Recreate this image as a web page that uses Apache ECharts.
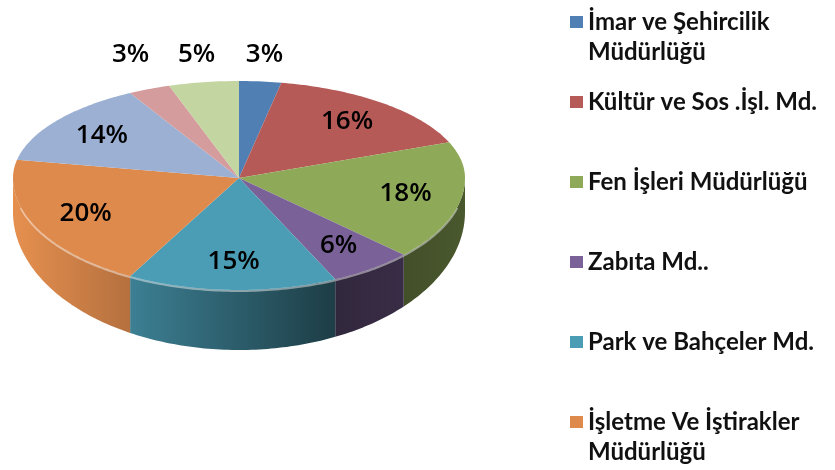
<!DOCTYPE html>
<html>
<head>
<meta charset="utf-8">
<script src="https://cdn.jsdelivr.net/npm/echarts@6/dist/echarts.min.js"></script>
<style>
  html, body { margin: 0; padding: 0; background: #fff; }
  #c1 { width: 835px; height: 470px; }
</style>
</head>
<body>
<div id="c1"></div>
<script>
// slices in drawing order, clockwise from 12 o'clock
const categories = [
  'İmar ve Şehircilik\nMüdürlüğü',
  'Kültür ve Sos .İşl. Md.',
  'Fen İşleri Müdürlüğü',
  'Zabıta Md..',
  'Park ve Bahçeler Md.',
  'İşletme Ve İştirakler\nMüdürlüğü',
  'Destek Hizmetleri Md.',
  'Mali Hizmetler Md.',
  'Yazı İşleri Md.'
]
const values = [3, 16, 18, 6, 15, 20, 14, 3, 5]
const colors = ['#4F7FB3', '#B55A57', '#8EAA58', '#7A6197', '#4A9DB5', '#DD8A4C', '#9BB0D3', '#D49C9C', '#C3D5A0']

const total = values.reduce((a, b) => a + b, 0)
const starts = []
let acc = 0
values.forEach(v => { starts.push(acc / total * 360); acc += v })

// fake 3d geometry
const cx = 239, cy = 178, rx = 226, ryTop = 97, ryBottom = 112
const rad = d => d * Math.PI / 180
const edge = (deg, f = 1) => {
  const c = Math.cos(rad(deg))
  return [cx + f * rx * Math.sin(rad(deg)), cy - f * (c > 0 ? ryTop : ryBottom) * c]
}
const depth = deg => 34 + 26 * Math.max(0, -Math.cos(rad(deg)))
const arc = (a0, a1) => {
  const n = Math.max(1, Math.ceil(a1 - a0))
  const pts = []
  for (let k = 0; k <= n; k++) pts.push(a0 + (a1 - a0) * k / n)
  return pts
}
const shade = (hex, k) => {
  const n = parseInt(hex.slice(1), 16)
  const ch = s => Math.max(0, Math.min(255, Math.round(((n >> s) & 255) * k)))
  return 'rgb(' + ch(16) + ',' + ch(8) + ',' + ch(0) + ')'
}

// label spots: small slices go above the pie, pushed apart
const labelPos = []
const outside = []
values.forEach((v, i) => {
  const mid = starts[i] + v / total * 180
  if (v < 6) outside.push({ i, mid })
  else labelPos[i] = edge(mid, 0.75)
})
outside.sort((a, b) => Math.sin(rad(b.mid)) - Math.sin(rad(a.mid)))
let prevX = null
outside.forEach(o => {
  let x = cx + 1.2 * rx * Math.sin(rad(o.mid))
  if (prevX !== null) x = Math.min(x, prevX - 66)
  prevX = x
  labelPos[o.i] = [x, 55]
})

const renderItem = (params, api) => {
  const i = params.dataIndex
  const a0 = starts[i]
  const a1 = a0 + api.value(0) / total * 360
  const base = colors[i]
  const children = []

  const w0 = Math.max(a0, 90), w1 = Math.min(a1, 270)
  if (w1 > w0) {
    const angles = arc(w0, w1)
    const top = angles.map(d => edge(d))
    const bottom = angles.map(d => { const p = edge(d); return [p[0], p[1] + depth(d)] }).reverse()
    children.push({
      type: 'polygon',
      shape: { points: top.concat(bottom) },
      style: {
        fill: {
          type: 'linear', x: cx - rx, y: 0, x2: cx + rx, y2: 0, global: true,
          colorStops: [
            { offset: 0, color: shade(base, 1.04) },
            { offset: 0.22, color: shade(base, 0.85) },
            { offset: 0.7, color: shade(base, 0.4) },
            { offset: 1, color: shade(base, 0.52) }
          ]
        }
      }
    })
    const h0 = Math.max(a0, 105), h1 = Math.min(a1, 255)
    if (h1 > h0) {
      children.push({
        type: 'polyline',
        shape: { points: arc(h0, h1).map(d => { const p = edge(d); return [p[0], p[1] + 1] }) },
        style: { stroke: 'rgba(255,255,255,0.45)', lineWidth: 2, fill: null }
      })
    }
  }

  children.push({
    type: 'polygon',
    shape: { points: [[cx, cy]].concat(arc(a0, a1).map(d => edge(d))) },
    style: { fill: base }
  })

  children.push({
    type: 'text',
    z2: 10,
    style: {
      text: api.value(0) + '%',
      x: labelPos[i][0], y: labelPos[i][1],
      align: 'center', verticalAlign: 'middle',
      font: '600 26px "Open Sans"', fill: '#000'
    }
  })
  return { type: 'group', children }
}

const myChart = echarts.init(document.getElementById('c1'))
const option = {
  animation: false,
  legend: categories.slice(0, 6).map((name, i) => {
    const twoLine = name.indexOf('\n') >= 0
    return {
      data: [name],
      orient: 'vertical',
      left: 570,
      top: 22 + 80 * i - (twoLine ? 45 : 15),
      padding: 0,
      icon: 'rect',
      itemWidth: 13,
      itemHeight: 12,
      selectedMode: false,
      // blank first line keeps the marker beside the first text line
      formatter: n => (n.indexOf('\n') >= 0 ? '\u00a0\n' + n : n),
      textStyle: {
        fontFamily: 'Lato',
        fontWeight: 'bold',
        fontSize: 24,
        lineHeight: 30,
        color: '#111'
      }
    }
  }),
  series: [
    {
      // only feeds the legend
      type: 'pie',
      radius: 0,
      silent: true,
      label: { show: false },
      labelLine: { show: false },
      data: categories.map((name, i) => ({ name, value: values[i], itemStyle: { color: colors[i] } }))
    },
    {
      type: 'custom',
      coordinateSystem: 'none',
      silent: true,
      renderItem,
      data: values
    }
  ]
}
myChart.setOption(option)
</script>
</body>
</html>
